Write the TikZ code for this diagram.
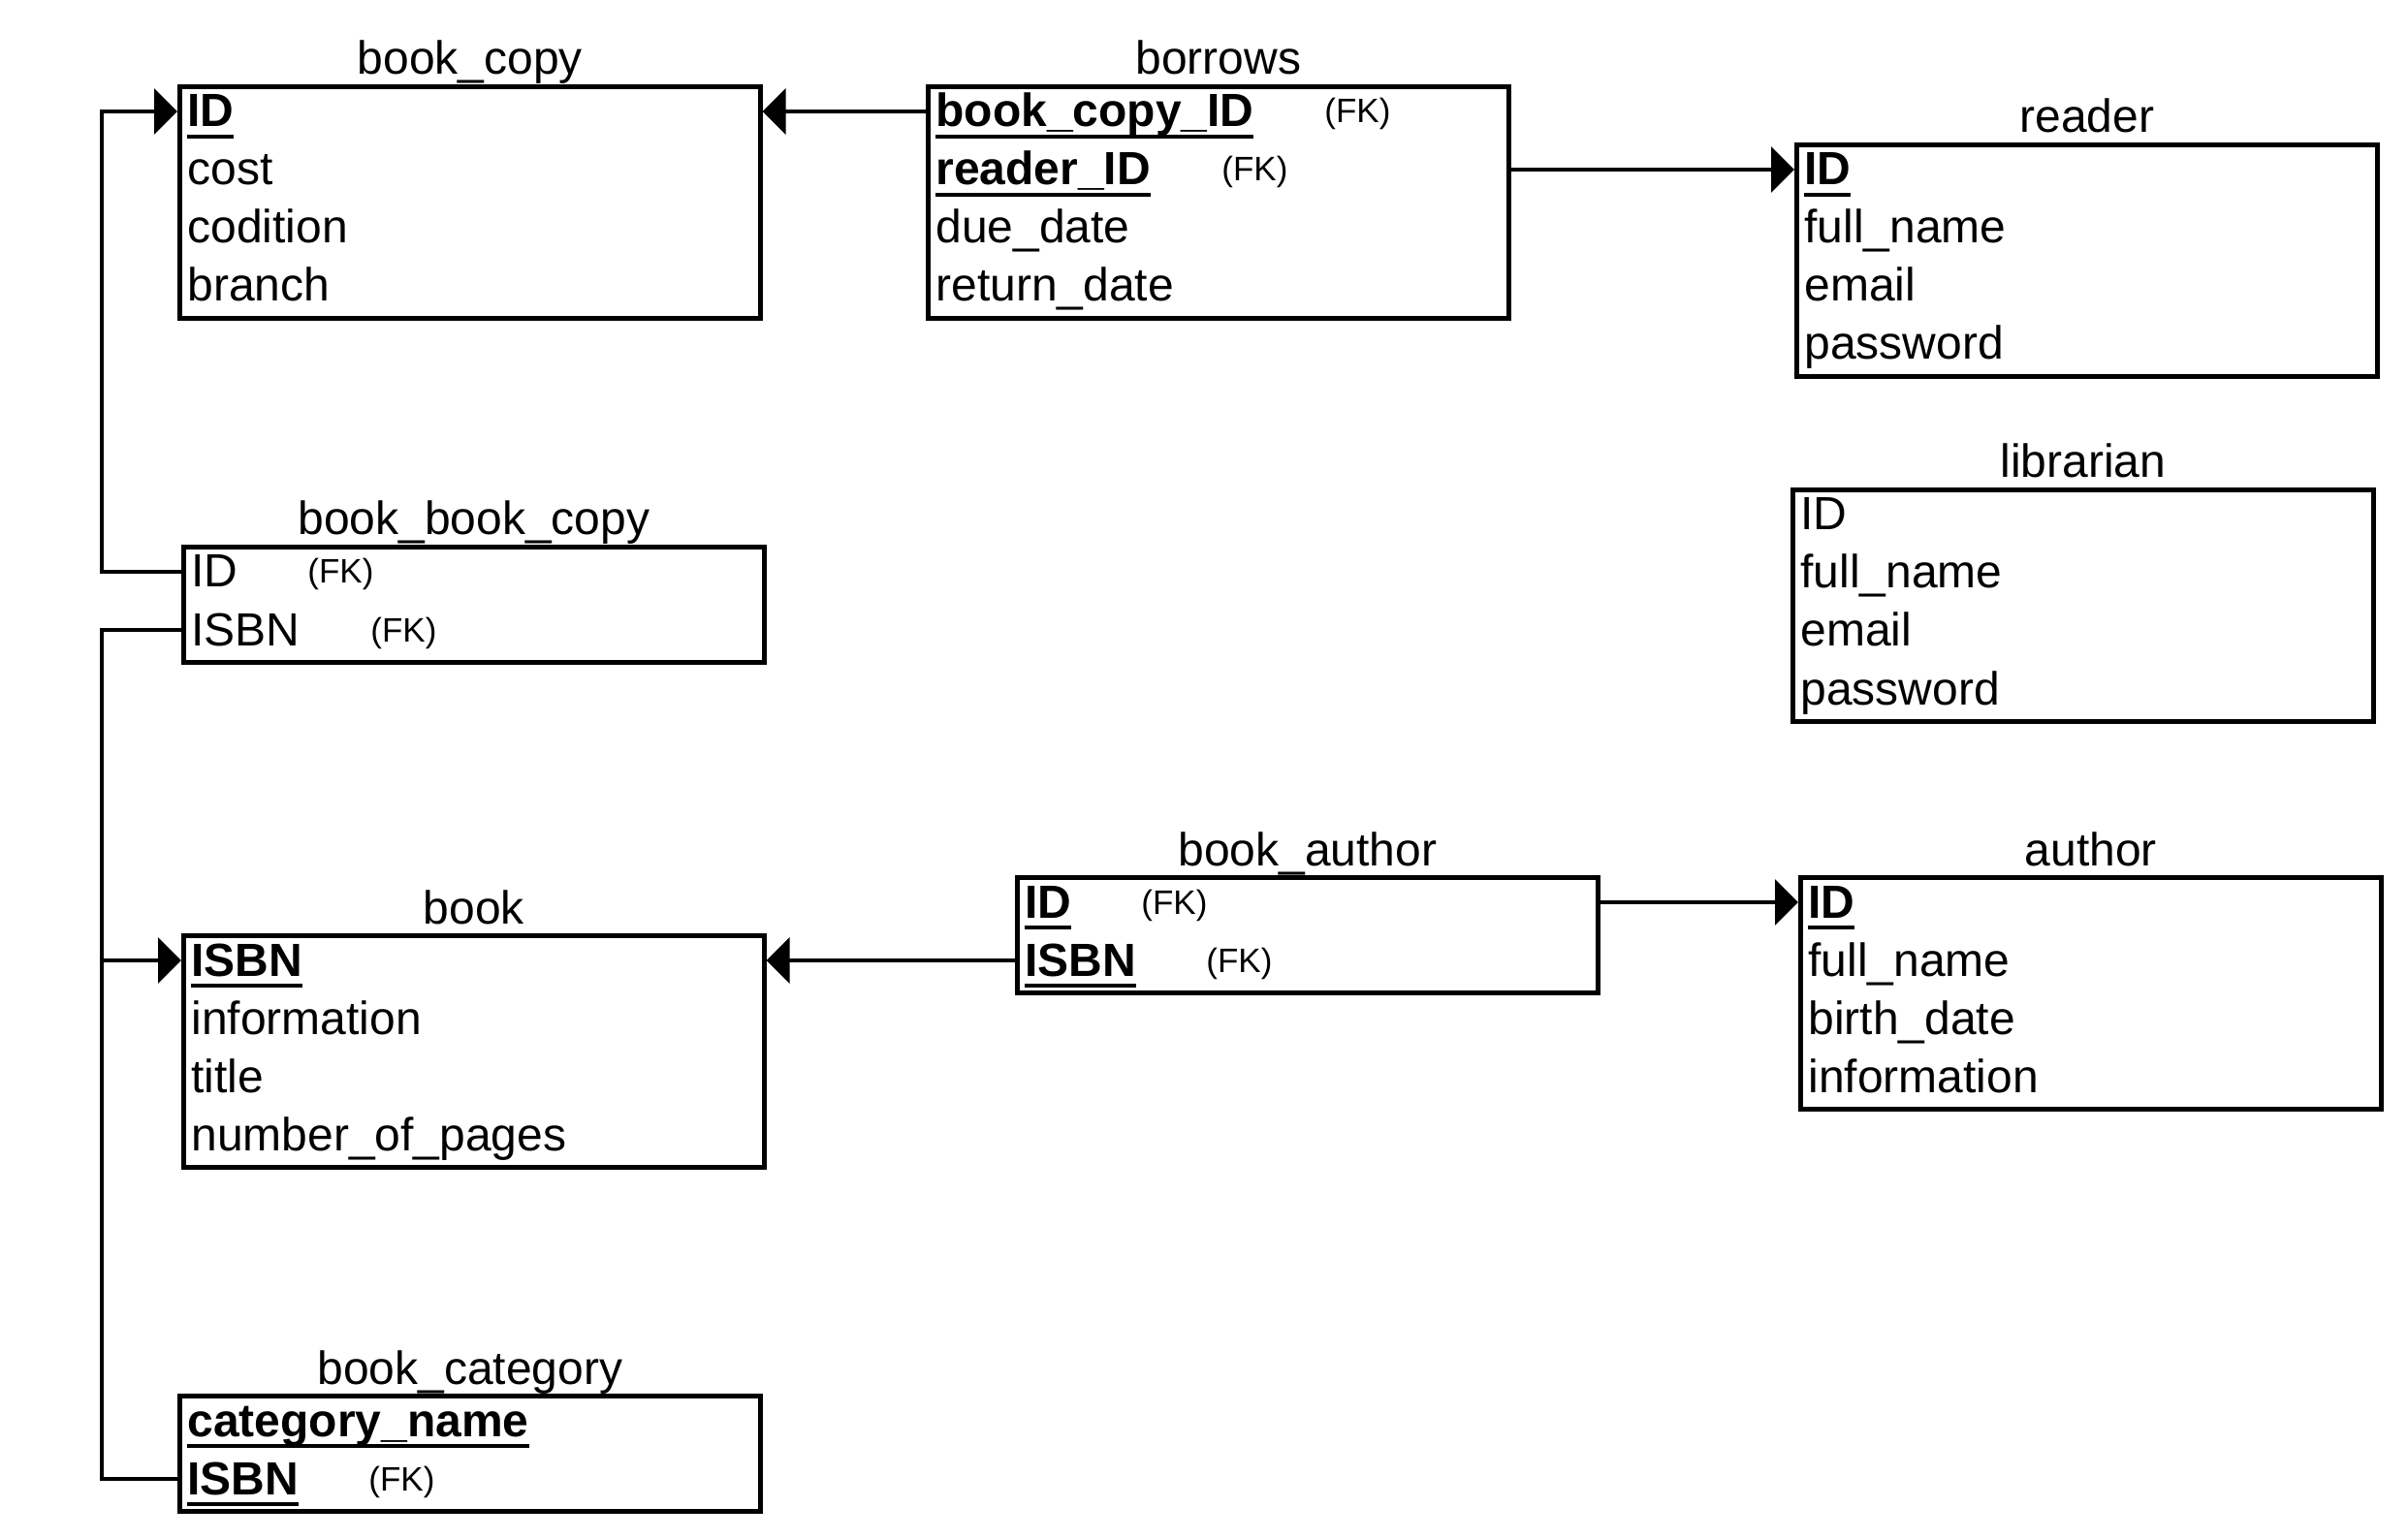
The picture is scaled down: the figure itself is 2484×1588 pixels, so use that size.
\documentclass[tikz,border=0pt]{standalone}
\usepackage{fontspec}
\setmainfont{Liberation Sans}
\usetikzlibrary{arrows.meta,calc}
\newcommand\mainsz{\fontsize{24pt}{30pt}\selectfont}
\newcommand\fksz{\fontsize{17.5pt}{20pt}\selectfont}
\newcommand\keyfld[1]{\setbox0=\hbox{\bfseries #1}\rlap{\rule[-6pt]{\wd0}{2.2pt}}\box0}
\begin{document}
\begin{tikzpicture}[x=0.5pt,y=-0.5pt,
  tbl/.style={draw, line width=2.3pt, minimum width=299.5pt, inner sep=0pt, anchor=north west},
  tblfour/.style={tbl, minimum height=119.5pt},
  tbltwo/.style={tbl, minimum height=59.5pt},
  ttl/.style={anchor=base, font=\mainsz, inner sep=0pt},
  fld/.style={anchor=base west, font=\mainsz, inner sep=0pt},
  fk/.style={anchor=base west, font=\fksz, inner sep=0pt},
  conn/.style={line width=2pt},
  arr/.style={conn, -{Triangle[length=12pt,width=23.5pt]}}]
\useasboundingbox (0,0) rectangle (2484,1588);

% book_copy
\node[tblfour] (bc) at (183,87) {};
\node[ttl] (bct) at ($(bc.north)+(0,-10)$) {book\_copy};
\node[fld] (bc1) at ($(bc.north west)+(10,44)$) {\keyfld{ID}};
\node[fld] (bc2) at ($(bc.north west)+(10,104)$) {cost};
\node[fld] (bc3) at ($(bc.north west)+(10,164)$) {codition};
\node[fld] (bc4) at ($(bc.north west)+(10,224)$) {branch};

% borrows
\node[tblfour] (bw) at (955,87) {};
\node[ttl] (bwt) at ($(bw.north)+(0,-10)$) {borrows};
\node[fld] (bw1) at ($(bw.north west)+(10,44)$) {\keyfld{book\_copy\_ID}};
\node[fk] (bw1k) at ($(bw.north west)+(411,40)$) {(FK)};
\node[fld] (bw2) at ($(bw.north west)+(10,104)$) {\keyfld{reader\_ID}};
\node[fk] (bw2k) at ($(bw.north west)+(305,100)$) {(FK)};
\node[fld] (bw3) at ($(bw.north west)+(10,164)$) {due\_date};
\node[fld] (bw4) at ($(bw.north west)+(10,224)$) {return\_date};

% reader
\node[tblfour] (rd) at (1851,147) {};
\node[ttl] (rdt) at ($(rd.north)+(0,-10)$) {reader};
\node[fld] (rd1) at ($(rd.north west)+(10,44)$) {\keyfld{ID}};
\node[fld] (rd2) at ($(rd.north west)+(10,104)$) {full\_name};
\node[fld] (rd3) at ($(rd.north west)+(10,164)$) {email};
\node[fld] (rd4) at ($(rd.north west)+(10,224)$) {password};

% librarian
\node[tblfour] (lb) at (1847,503) {};
\node[ttl] (lbt) at ($(lb.north)+(0,-10)$) {librarian};
\node[fld] (lb1) at ($(lb.north west)+(10,44)$) {ID};
\node[fld] (lb2) at ($(lb.north west)+(10,104)$) {full\_name};
\node[fld] (lb3) at ($(lb.north west)+(10,164)$) {email};
\node[fld] (lb4) at ($(lb.north west)+(10,224)$) {password};

% book_book_copy
\node[tbltwo] (bbc) at (187,562) {};
\node[ttl] (bbct) at ($(bbc.north)+(0,-10)$) {book\_book\_copy};
\node[fld] (bbc1) at ($(bbc.north west)+(10,44)$) {ID};
\node[fk] (bbc1k) at ($(bbc.north west)+(130,40)$) {(FK)};
\node[fld] (bbc2) at ($(bbc.north west)+(10,104)$) {ISBN};
\node[fk] (bbc2k) at ($(bbc.north west)+(195,100)$) {(FK)};

% book
\node[tblfour] (bk) at (187,963) {};
\node[ttl] (bkt) at ($(bk.north)+(0,-10)$) {book};
\node[fld] (bk1) at ($(bk.north west)+(10,44)$) {\keyfld{ISBN}};
\node[fld] (bk2) at ($(bk.north west)+(10,104)$) {information};
\node[fld] (bk3) at ($(bk.north west)+(10,164)$) {title};
\node[fld] (bk4) at ($(bk.north west)+(10,224)$) {number\_of\_pages};

% book_author
\node[tbltwo] (ba) at (1047,903) {};
\node[ttl] (bat) at ($(ba.north)+(0,-10)$) {book\_author};
\node[fld] (ba1) at ($(ba.north west)+(10,44)$) {\keyfld{ID}};
\node[fk] (ba1k) at ($(ba.north west)+(130,40)$) {(FK)};
\node[fld] (ba2) at ($(ba.north west)+(10,104)$) {\keyfld{ISBN}};
\node[fk] (ba2k) at ($(ba.north west)+(197,100)$) {(FK)};

% author
\node[tblfour] (au) at (1855,903) {};
\node[ttl] (aut) at ($(au.north)+(0,-10)$) {author};
\node[fld] (au1) at ($(au.north west)+(10,44)$) {\keyfld{ID}};
\node[fld] (au2) at ($(au.north west)+(10,104)$) {full\_name};
\node[fld] (au3) at ($(au.north west)+(10,164)$) {birth\_date};
\node[fld] (au4) at ($(au.north west)+(10,224)$) {information};

% book_category
\node[tbltwo] (bcat) at (183,1438) {};
\node[ttl] (bcatt) at ($(bcat.north)+(0,-10)$) {book\_category};
\node[fld] (bcat1) at ($(bcat.north west)+(10,44)$) {\keyfld{category\_name}};
\node[fld] (bcat2) at ($(bcat.north west)+(10,104)$) {\keyfld{ISBN}};
\node[fk] (bcat2k) at ($(bcat.north west)+(197,100)$) {(FK)};

% ports
\coordinate (bc-w1) at ($(bc.north west)+(0,28)$);
\coordinate (bc-e1) at ($(bc.north east)+(0,28)$);
\coordinate (bw-w1) at ($(bw.north west)+(0,28)$);
\coordinate (bw-e2) at ($(bw.north east)+(0,88)$);
\coordinate (rd-w1) at ($(rd.north west)+(0,28)$);
\coordinate (bbc-w1) at ($(bbc.north west)+(0,28)$);
\coordinate (bbc-w2) at ($(bbc.north west)+(0,88)$);
\coordinate (bk-w1) at ($(bk.north west)+(0,28)$);
\coordinate (bk-e1) at ($(bk.north east)+(0,28)$);
\coordinate (ba-w2) at ($(ba.north west)+(0,88)$);
\coordinate (ba-e1) at ($(ba.north east)+(0,28)$);
\coordinate (au-w1) at ($(au.north west)+(0,28)$);
\coordinate (bcat-w2) at ($(bcat.north west)+(0,88)$);
\coordinate (lx) at (105,0);
\coordinate (jn) at (lx |- bk-w1);

% connectors
\draw[arr] (bw-w1) -- (bc-e1);
\draw[arr] (bw-e2) -- (rd-w1);
\draw[arr] (ba-w2) -- (bk-e1);
\draw[arr] (ba-e1) -- (au-w1);
\draw[arr] (bbc-w1) -- (lx |- bbc-w1) |- (bc-w1);
\draw[conn] (bbc-w2) -- (lx |- bbc-w2) |- (bcat-w2);
\draw[arr] (jn) -- (bk-w1);
\end{tikzpicture}
\end{document}
